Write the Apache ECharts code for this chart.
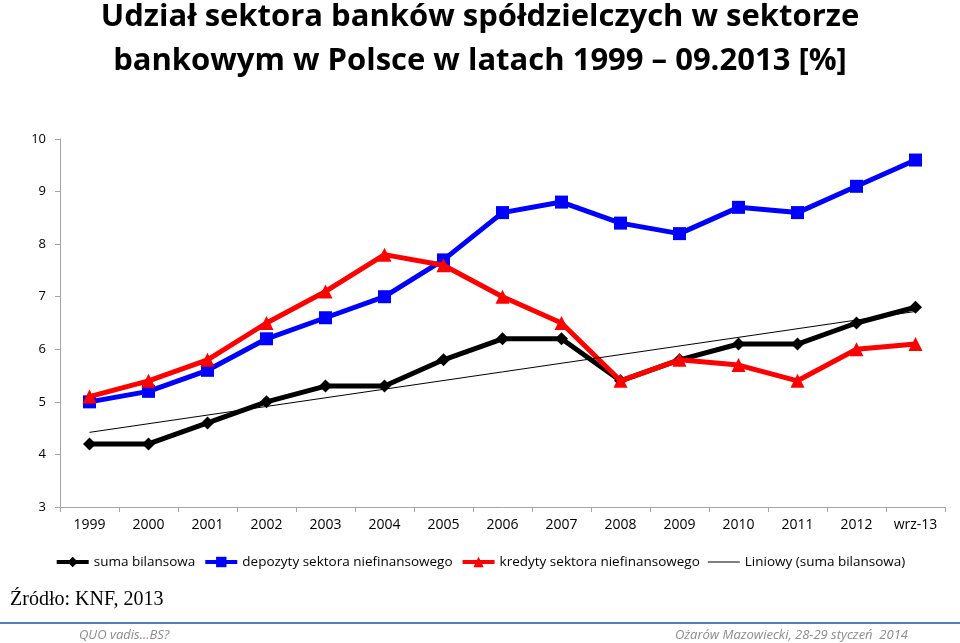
<!DOCTYPE html>
<html>
<head>
<meta charset="utf-8">
<script src="https://cdn.jsdelivr.net/npm/echarts@6/dist/echarts.min.js"></script>
<style>
html,body{margin:0;padding:0;background:#fff;}
#chart{width:960px;height:643px;}
</style>
</head>
<body>
<div id="chart"></div>
<script>
var categories = ['1999','2000','2001','2002','2003','2004','2005','2006','2007','2008','2009','2010','2011','2012','wrz-13'];
var sumaBilansowa = [4.2,4.2,4.6,5.0,5.3,5.3,5.8,6.2,6.2,5.4,5.8,6.1,6.1,6.5,6.8];
var depozyty = [5.0,5.2,5.6,6.2,6.6,7.0,7.7,8.6,8.8,8.4,8.2,8.7,8.6,9.1,9.6];
var kredyty = [5.1,5.4,5.8,6.5,7.1,7.8,7.6,7.0,6.5,5.4,5.8,5.7,5.4,6.0,6.1];
var trendStart = 4.42;
var trendEnd = 6.72;
var yTicks = [3,4,5,6,7,8,9,10];

var titleLines = ['Udział sektora banków spółdzielczych w sektorze', 'bankowym w Polsce w latach 1999 – 09.2013 [%]'];
var sourceText = 'Źródło: KNF, 2013';
var footerLeft = 'QUO vadis...BS?';
var footerRight = 'Ożarów Mazowiecki, 28-29 styczeń  2014';

var chart = echarts.init(document.getElementById('chart'), null, {renderer:'canvas'});
var titleFont = '"Open Sans"';
var plainLineIcon = 'path://M0,0h0.01v0.01h-0.01z M0,5.4h34v1.2h-34z M33.99,11.99h0.01v0.01h-0.01z';
var option = {
  backgroundColor:'#fff',
  animation:false,
  grid:{left:60, right:15, top:139, bottom:136, containLabel:false},
  xAxis:{
    type:'category', data:categories, boundaryGap:true,
    axisLine:{lineStyle:{color:'#a6a6a6', width:1}},
    axisTick:{show:true, alignWithLabel:false, length:5, lineStyle:{color:'#a6a6a6'}},
    axisLabel:{color:'#000', fontSize:14, fontFamily:'Open Sans', margin:11}
  },
  yAxis:{
    type:'value', min:yTicks[0], max:yTicks[yTicks.length-1], interval:1,
    axisLine:{show:true, lineStyle:{color:'#a6a6a6', width:1}},
    axisTick:{show:true, length:5, lineStyle:{color:'#a6a6a6'}},
    splitLine:{show:false},
    axisLabel:{color:'#000', fontSize:13, fontFamily:'Open Sans', margin:14}
  },
  legend:{
    top:550, left:'center', itemWidth:32, itemHeight:13, itemGap:8,
    lineStyle:{width:4},
    textStyle:{fontSize:13.5, fontFamily:'Open Sans', color:'#000'},
    data:['suma bilansowa','depozyty sektora niefinansowego','kredyty sektora niefinansowego',
      {name:'Liniowy (suma bilansowa)', icon:plainLineIcon}]
  },
  series:[
    {name:'suma bilansowa', type:'line', data:sumaBilansowa, color:'#000',
      lineStyle:{width:5, color:'#000'}, symbol:'diamond', symbolSize:13,
      itemStyle:{color:'#000'}, z:3},
    {name:'depozyty sektora niefinansowego', type:'line', data:depozyty, color:'#0000ff',
      lineStyle:{width:5, color:'#0000ff'}, symbol:'rect', symbolSize:13,
      itemStyle:{color:'#0000ff'}, z:4},
    {name:'kredyty sektora niefinansowego', type:'line', data:kredyty, color:'#ff0000',
      lineStyle:{width:5, color:'#ff0000'}, symbol:'triangle', symbolSize:14,
      itemStyle:{color:'#ff0000'}, z:5},
    {name:'Liniowy (suma bilansowa)', type:'line', data:[[0,trendStart],[categories.length-1,trendEnd]],
      color:'#000', lineStyle:{width:1, color:'#000'}, symbol:'none', showSymbol:false, z:6}
  ],
  graphic:[
    {type:'text', left:'center', top:2, style:{text:titleLines[0], font:'bold 31px '+titleFont, fill:'#000'}},
    {type:'text', left:'center', top:46, style:{text:titleLines[1], font:'bold 31px '+titleFont, fill:'#000'}},
    {type:'text', left:10, top:590, style:{text:sourceText, font:'20px "Liberation Serif"', fill:'#000'}},
    {type:'rect', shape:{x:0, y:622, width:960, height:2}, style:{fill:'#4f81bd'}},
    {type:'text', left:79, top:629, style:{text:footerLeft, font:'italic 13px "Open Sans"', fill:'#8c8c8c'}},
    {type:'text', right:52, top:629, style:{text:footerRight, font:'italic 13px "Open Sans"', fill:'#8c8c8c'}}
  ]
};
chart.setOption(option);
</script>
</body>
</html>
